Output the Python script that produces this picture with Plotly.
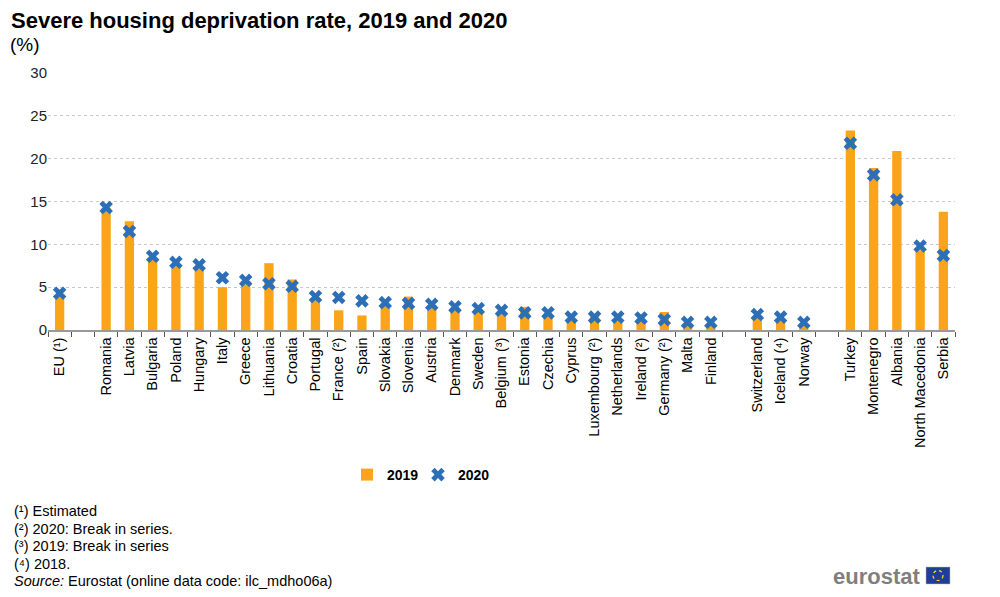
import plotly.graph_objects as go

categories = ["EU (¹)", " ", "Romania", "Latvia", "Bulgaria", "Poland", "Hungary", "Italy",
              "Greece", "Lithuania", "Croatia", "Portugal", "France (²)", "Spain", "Slovakia",
              "Slovenia", "Austria", "Denmark", "Sweden", "Belgium (³)", "Estonia", "Czechia",
              "Cyprus", "Luxembourg (²)", "Netherlands", "Ireland (²)", "Germany (²)", "Malta",
              "Finland", "  ", "Switzerland", "Iceland (⁴)", "Norway", "   ", "Turkey",
              "Montenegro", "Albania", "North Macedonia", "Serbia"]

values_2019 = [4.0, None, 14.2, 12.7, 8.4, 7.7, 7.3, 5.0, 5.7, 7.8, 5.9, 3.7, 2.3, 1.7, 3.1,
               3.9, 2.9, 2.6, 2.4, 2.0, 2.7, 1.8, 1.2, 1.6, 1.2, 1.0, 2.1, 0.8, 0.6, None,
               1.5, 1.3, 0.7, None, 23.3, 18.9, 20.9, 9.3, 13.8]

values_2020 = [4.3, None, 14.3, 11.5, 8.6, 7.9, 7.6, 6.1, 5.8, 5.4, 5.1, 3.9, 3.8, 3.4, 3.2,
               3.1, 3.0, 2.7, 2.5, 2.3, 2.0, 2.0, 1.5, 1.5, 1.5, 1.4, 1.2, 0.9, 0.9, None,
               1.8, 1.5, 0.9, None, 21.8, 18.1, 15.2, 9.8, 8.7]

y_ticks = [0, 5, 10, 15, 20, 25, 30]

FONT = "Arial, Liberation Sans, sans-serif"
W, H = 1000, 597
L, R, T, B = 48, 45, 73, 267
PW, PH = W - L - R, H - T - B


def px(x):
    return (x - L) / PW


def py(y):
    return (H - B - y) / PH


fig = go.Figure()
fig.add_trace(go.Bar(
    x=categories, y=values_2019, name="<b>2019</b>",
    marker=dict(color="#FAA519", line=dict(width=0)),
    width=0.4,
))
fig.add_trace(go.Scatter(
    x=categories, y=values_2020, name="<b>2020</b>", mode="markers",
    marker=dict(symbol="x", size=12, color="#2C6FB7", line=dict(width=0)),
))

fig.update_layout(
    width=W, height=H,
    margin=dict(l=L, r=R, t=T, b=B),
    paper_bgcolor="white", plot_bgcolor="white",
    font=dict(family=FONT, size=13, color="#000000"),
    showlegend=True,
    legend=dict(orientation="h", x=px(418), xanchor="center", y=py(475), yanchor="middle",
                font=dict(family=FONT, size=14, color="#000"), itemwidth=30,
                entrywidth=26, entrywidthmode="pixels",
                tracegroupgap=0, traceorder="normal", bgcolor="rgba(0,0,0,0)"),
    xaxis=dict(
        type="category", categoryorder="array", categoryarray=categories,
        tickangle=-90, tickson="boundaries", ticks="outside", ticklen=5,
        tickcolor="#555555", tickwidth=1,
        showline=True, linecolor="#999999", linewidth=1.5,
        showgrid=False, tickfont=dict(family=FONT, size=14.5, color="#000"),
        range=[-0.5, len(categories) - 0.5],
    ),
    yaxis=dict(
        range=[0, 30], tickvals=y_ticks, showgrid=True, gridcolor="#C8C8C8",
        griddash="dot", gridwidth=1, zeroline=False, showline=False,
        tickfont=dict(family=FONT, size=15, color="#222"), ticks="",
    ),
    annotations=[
        dict(text="<b>Severe housing deprivation rate, 2019 and 2020</b>", x=px(9), y=py(20),
             xref="paper", yref="paper", xanchor="left", yanchor="middle", showarrow=False,
             font=dict(family=FONT, size=22, color="#000")),
        dict(text="(%)", x=px(8), y=py(45), xref="paper", yref="paper", xanchor="left",
             yanchor="middle", showarrow=False, font=dict(family=FONT, size=19, color="#000")),
    ],
)

notes = ["(¹) Estimated", "(²) 2020: Break in series.", "(³) 2019: Break in series", "(⁴) 2018.",
         "<i>Source:</i> Eurostat (online data code: ilc_mdho06a)"]
note_y = [511, 528.5, 546, 563.5, 581]
for t, yy in zip(notes, note_y):
    fig.add_annotation(text=t, x=px(12), y=py(yy), xref="paper", yref="paper", xanchor="left",
                       yanchor="middle", showarrow=False,
                       font=dict(family=FONT, size=14.5, color="#000"))

# eurostat logo
fig.add_annotation(text="<b>eurostat</b>", x=px(922), y=py(576), xref="paper", yref="paper",
                   xanchor="right", yanchor="middle", showarrow=False,
                   font=dict(family=FONT, size=22, color="#7F7F7F"))
fig.add_shape(type="rect", xref="paper", yref="paper", x0=px(926), x1=px(950), y0=py(584), y1=py(567),
              fillcolor="#1F3F95", line=dict(width=0.5, color="#BBBBBB"))
fig.add_shape(type="circle", xref="paper", yref="paper", x0=px(933), x1=px(943), y0=py(580.5), y1=py(570.5),
              line=dict(width=1.2, color="#FFE000", dash="dot"), fillcolor="rgba(0,0,0,0)")

fig.write_html("out.html", config={"displayModeBar": False},
               post_script="document.body.style.margin='0';document.body.style.padding='0';")
